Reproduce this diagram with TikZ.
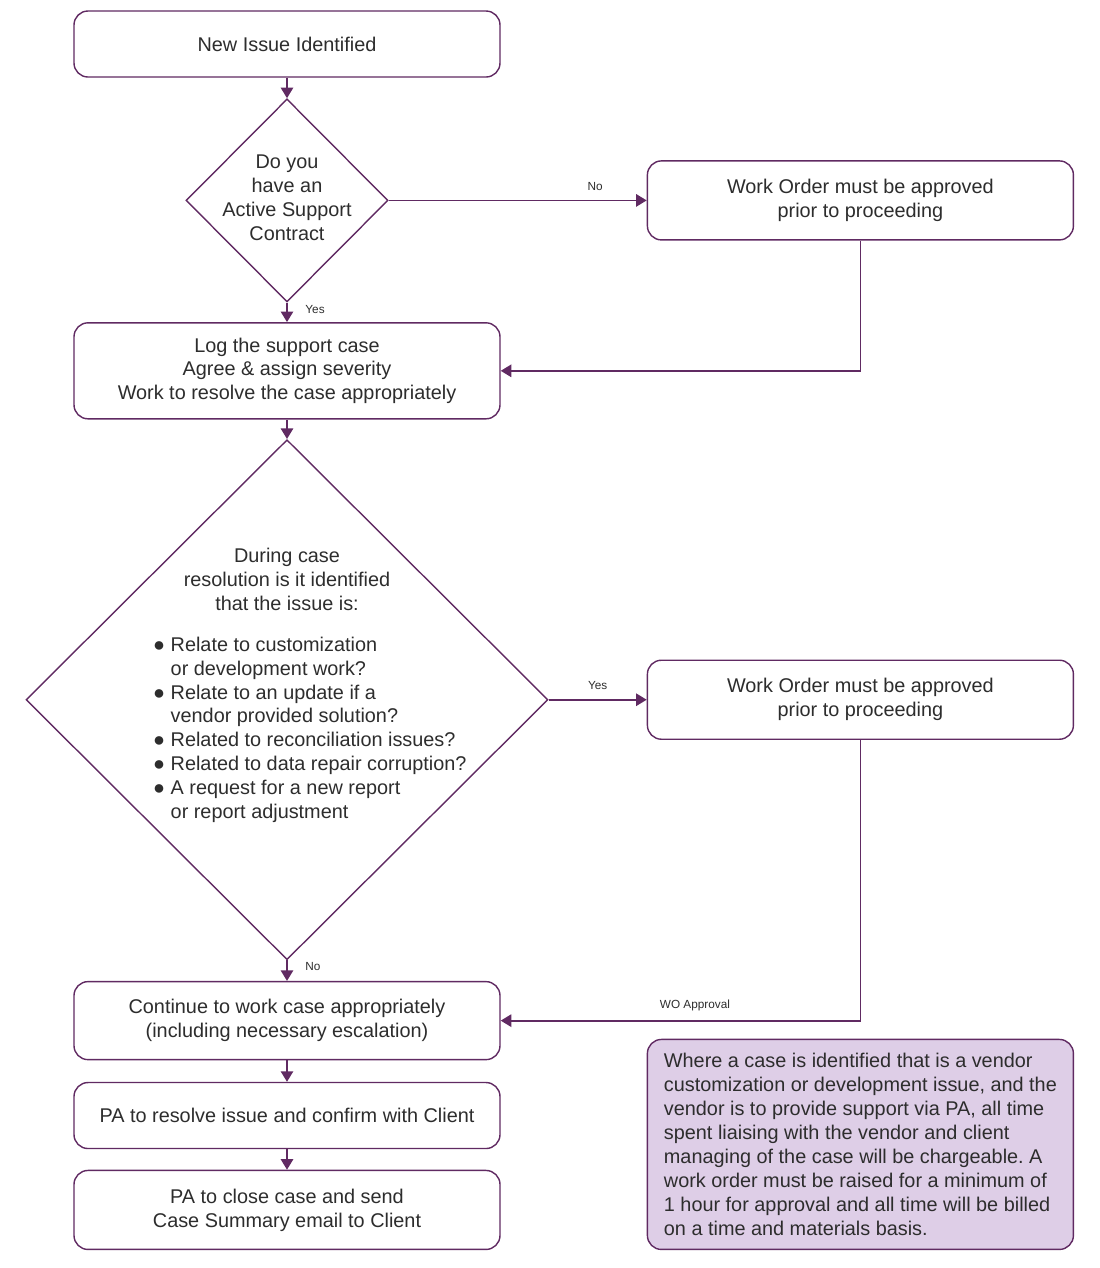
\documentclass[tikz,border=0pt]{standalone}
\usepackage{fontspec}
\setmainfont{Liberation Sans}
\usepackage{xcolor}
\usepackage{tikz}
\usetikzlibrary{arrows.meta,calc,positioning,shapes.geometric}
\definecolor{wopurple}{RGB}{96,42,98}
\definecolor{wolilac}{RGB}{222,206,231}
\definecolor{wotext}{RGB}{45,45,45}
\frenchspacing

\begin{document}
\begin{tikzpicture}[
  every node/.style={font=\fontsize{11.3}{13.6}\selectfont, text=wotext},
  stepbox/.style={draw=wopurple, rounded corners=0.28cm, fill=white,
    minimum width=8.52cm, minimum height=1.32cm, align=center,
    inner sep=0pt, line width=0.8pt},
  decision/.style={diamond, draw=wopurple, aspect=1, inner sep=0pt,
    line width=0.8pt},
  note/.style={stepbox, fill=wolilac, align=left},
  arr/.style={-{Triangle[length=6pt, width=7pt]}, draw=wopurple, line width=1pt},
  lab/.style={font=\fontsize{6.7}{8}\selectfont, inner sep=1pt}
]
  \useasboundingbox (0,0) rectangle (22,-25.36);

  \node[stepbox] (new) at (5.74,-0.88) {New Issue Identified};
  \node[decision, minimum width=4.04cm, minimum height=4.06cm,
    below=0.41cm of new] (q1) {};
  \node[align=center] (q1text) at ($(q1.center)+(0,0.05)$)
    {Do you\\have an\\Active Support\\Contract};
  \node[stepbox, minimum height=1.58cm, right=5.16cm of q1] (wo1)
    {Work Order must be approved\\prior to proceeding};

  \node[stepbox, minimum height=1.92cm, below=0.39cm of q1] (log)
    {Log the support case\\Agree \& assign severity\\Work to resolve the case appropriately};

  \node[decision, minimum width=10.44cm, minimum height=10.4cm,
    below=0.39cm of log] (q2) {};
  \node[align=center] (q2head) at ($(q2.center)+(0,2.4)$)
    {During case\\resolution is it identified\\that the issue is:};
  \node[align=left, anchor=west] (q2list) at ($(q2.center)+(-2.8,-0.6)$)
    {●\ Relate to customization\\
     \hphantom{●\ }or development work?\\
     ●\ Relate to an update if a\\
     \hphantom{●\ }vendor provided solution?\\
     ●\ Related to reconciliation issues?\\
     ●\ Related to data repair corruption?\\
     ●\ A request for a new report\\
     \hphantom{●\ }or report adjustment};
  \node[stepbox, minimum height=1.58cm, right=1.96cm of q2] (wo2)
    {Work Order must be approved\\prior to proceeding};

  \node[stepbox, minimum height=1.56cm, below=0.41cm of q2] (cont)
    {Continue to work case appropriately\\(including necessary escalation)};
  \node[stepbox, below=0.43cm of cont] (resolve)
    {PA to resolve issue and confirm with Client};
  \node[stepbox, minimum height=1.58cm, below=0.41cm of resolve] (close)
    {PA to close case and send\\Case Summary email to Client};

  \node[note, minimum height=4.2cm, right=2.92cm of close.south east,
    anchor=south west] (fee)
    {Where a case is identified that is a vendor\\
     customization or development issue, and the\\
     vendor is to provide support via PA, all time\\
     spent liaising with the vendor and client\\
     managing of the case will be chargeable. A\\
     work order must be raised for a minimum of\\
     1 hour for approval and all time will be billed\\
     on a time and materials basis.};

  \draw[arr] (new) -- (q1);
  \draw[arr] (q1) -- node[lab, above=4pt, pos=0.8]{No} (wo1);
  \draw[arr] (q1) -- node[lab, right=9pt, pos=0.35]{Yes} (log);
  \draw[arr] (wo1) |- (log);
  \draw[arr] (log) -- (q2);
  \draw[arr] (q2) -- node[lab, above=4pt]{Yes} (wo2);
  \draw[arr] (q2) -- node[lab, right=9pt, pos=0.3]{No} (cont);
  \draw[arr] (wo2) |- node[lab, above=4pt, pos=0.73]{WO Approval} (cont);
  \draw[arr] (cont) -- (resolve);
  \draw[arr] (resolve) -- (close);
\end{tikzpicture}
\end{document}
